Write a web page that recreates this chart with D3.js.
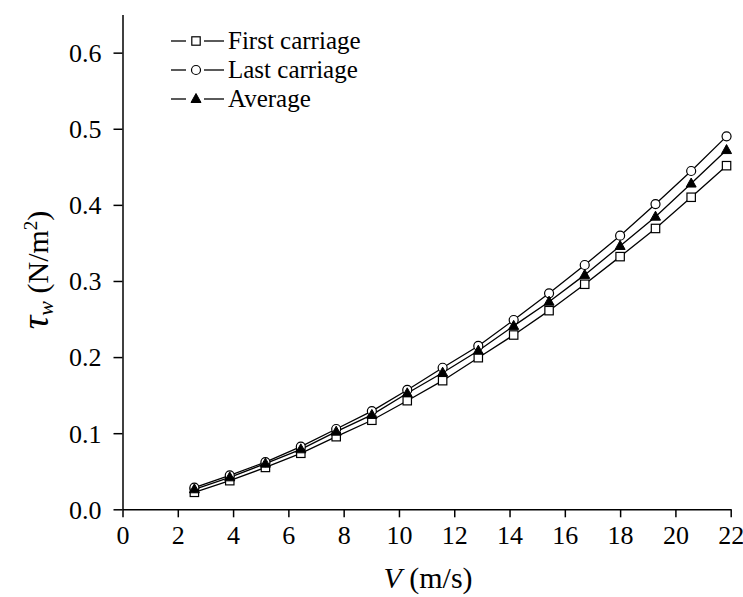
<!DOCTYPE html>
<html><head><meta charset="utf-8">
<script src="https://cdn.jsdelivr.net/npm/d3@7"></script>
<style>
body{margin:0;background:#fff;}
</style></head><body>
<svg id="c" width="743" height="597"></svg>
<script>
const speeds = [2.6, 3.88, 5.17, 6.45, 7.73, 9.02, 10.3, 11.58, 12.87, 14.15, 15.43, 16.72, 18.0, 19.28, 20.57, 21.85];
const firstCarriage = [0.0223, 0.0376, 0.055, 0.0736, 0.0954, 0.117, 0.1427, 0.169, 0.1992, 0.229, 0.261, 0.2957, 0.332, 0.369, 0.410, 0.4515];
const lastCarriage  = [0.0284, 0.0447, 0.062, 0.0823, 0.1055, 0.129, 0.1568, 0.186, 0.2146, 0.2487, 0.2838, 0.321, 0.3595, 0.401, 0.4445, 0.490];
const average       = [0.0263, 0.042, 0.060, 0.0788, 0.102, 0.124, 0.1524, 0.1795, 0.2084, 0.241, 0.2728, 0.308, 0.346, 0.3845, 0.428, 0.472];
const xTicks = [0,2,4,6,8,10,12,14,16,18,20,22];
const yTicks = [0.0,0.1,0.2,0.3,0.4,0.5,0.6];
const seriesNames = ["First carriage","Last carriage","Average"];

const FONT = 'Liberation Serif';
const svg = d3.select("#c");
const x = d3.scaleLinear().domain([0,22]).range([122.5,730.7]);
const y = d3.scaleLinear().domain([0,0.65]).range([509.3,14.6]);

// x axis
const gx = svg.append("g").attr("transform",`translate(0,${y(0)})`);
gx.call(d3.axisBottom(x).tickValues(d3.range(0,23,1)).tickSize(4).tickFormat(""))
  .call(g=>g.select(".domain").remove());
gx.call(d3.axisBottom(x).tickValues(xTicks).tickSize(8).tickSizeOuter(0).tickFormat(d=>d));
gx.attr("font-family",FONT).attr("font-size",26);
gx.selectAll("text").attr("font-size",26).attr("dy","0.92em").style("font-family",FONT).attr("fill","#000");
gx.selectAll("line,path").attr("stroke","#000").attr("stroke-width",1.5);

// y axis
const gy = svg.append("g").attr("transform",`translate(${x(0)},0)`);
gy.call(d3.axisLeft(y).tickValues(d3.range(0,0.651,0.05)).tickSize(5).tickFormat(""))
  .call(g=>g.select(".domain").remove());
gy.call(d3.axisLeft(y).tickValues(yTicks).tickSize(9).tickSizeOuter(0).tickFormat(d3.format(".1f")));
gy.attr("font-family",FONT).attr("font-size",26);
gy.selectAll("text").attr("font-size",26).attr("x",-21).attr("dy","0.34em").style("font-family",FONT).attr("fill","#000");
gy.selectAll("line,path").attr("stroke","#000").attr("stroke-width",1.5);

// series
const series = [
  {name:seriesNames[0], vals:firstCarriage, sym:"square"},
  {name:seriesNames[2], vals:average, sym:"triangle"},
  {name:seriesNames[1], vals:lastCarriage, sym:"circle"}
];
const line = d3.line().x((d,i)=>x(speeds[i])).y(d=>y(d));
series.forEach(s=>{
  svg.append("path").datum(s.vals).attr("d",line).attr("fill","none").attr("stroke","#000").attr("stroke-width",1.3);
});
function drawMarker(g, sym, cx, cy){
  if(sym==="square") g.append("rect").attr("x",cx-4.2).attr("y",cy-4.2).attr("width",8.4).attr("height",8.4).attr("fill","#fff").attr("stroke","#000").attr("stroke-width",1.2);
  else if(sym==="circle") g.append("circle").attr("cx",cx).attr("cy",cy).attr("r",4.5).attr("fill","#fff").attr("stroke","#000").attr("stroke-width",1.2);
  else g.append("path").attr("d",`M${cx},${cy-5.5}L${cx+5},${cy+3.5}L${cx-5},${cy+3.5}Z`).attr("fill","#000").attr("stroke","#000").attr("stroke-width",1);
}
const order = [series[0], series[2], series[1]];
order.forEach(s=>{
  const g = svg.append("g");
  s.vals.forEach((v,i)=>drawMarker(g, s.sym, x(speeds[i]), y(v)));
});

// legend
const legSyms = ["square","circle","triangle"];
const legY = [41,70,99];
seriesNames.forEach((n,i)=>{
  const g = svg.append("g");
  g.append("line").attr("x1",171).attr("x2",186).attr("y1",legY[i]).attr("y2",legY[i]).attr("stroke","#000").attr("stroke-width",1.3);
  g.append("line").attr("x1",204).attr("x2",224).attr("y1",legY[i]).attr("y2",legY[i]).attr("stroke","#000").attr("stroke-width",1.3);
  drawMarker(g, legSyms[i], 196, legY[i]);
  g.append("text").attr("x",228).attr("y",legY[i]).attr("dy","0.33em").attr("font-size",25).style("font-family",FONT).text(n);
});

// axis titles
const xt = svg.append("text").attr("x",428).attr("y",588).attr("text-anchor","middle").attr("font-size",30).style("font-family",FONT);
xt.append("tspan").attr("font-style","italic").text("V");
xt.append("tspan").text(" (m/s)");

const yt = svg.append("text").attr("transform","translate(48,270) rotate(-90)").attr("text-anchor","middle").attr("font-size",30).style("font-family",FONT);
yt.append("tspan").attr("font-style","italic").attr("font-size",38).text("τ");
yt.append("tspan").attr("font-style","italic").attr("font-size",22).attr("dy",5).text("w");
yt.append("tspan").attr("dy",-5).text(" (N/m");
yt.append("tspan").attr("font-size",19).attr("dy",-11).text("2");
yt.append("tspan").attr("dy",11).text(")");
</script>
</body></html>
